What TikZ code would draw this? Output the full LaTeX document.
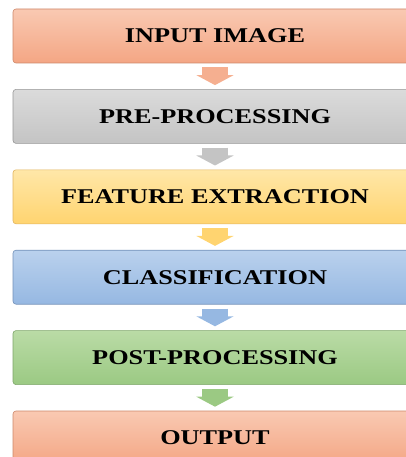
\documentclass[tikz,border=0pt]{standalone}
\usepackage{fontspec}
\setmainfont{Liberation Serif}[FakeStretch=1.25]
\usepackage{tikz}
\usetikzlibrary{arrows.meta}
\definecolor{salmonT}{RGB}{249,201,178}
\definecolor{salmonB}{RGB}{244,166,132}
\definecolor{salmonD}{RGB}{205,135,105}
\definecolor{grayT}{RGB}{219,219,219}
\definecolor{grayB}{RGB}{196,196,196}
\definecolor{grayD}{RGB}{150,150,150}
\definecolor{yellowT}{RGB}{255,231,168}
\definecolor{yellowB}{RGB}{255,212,112}
\definecolor{yellowD}{RGB}{225,180,95}
\definecolor{blueT}{RGB}{186,209,237}
\definecolor{blueB}{RGB}{150,184,226}
\definecolor{blueD}{RGB}{115,145,185}
\definecolor{greenT}{RGB}{186,219,166}
\definecolor{greenB}{RGB}{155,201,131}
\definecolor{greenD}{RGB}{125,165,105}
\tikzstyle{stage} = [rectangle, rounded corners=3pt, minimum width=404pt, minimum height=54pt, text centered, line width=0.6pt, font=\fontsize{21}{24}\selectfont\bfseries]
\tikzstyle{flow} = [line width=26pt, -{Triangle[length=10pt 0 0, width=37pt 0 0]}]

\begin{document}
\begin{tikzpicture}

\useasboundingbox (0,0) rectangle (406pt,-457pt);

\node (input) [stage, draw=salmonD, top color=salmonT, bottom color=salmonB] at (215pt,-36pt) {INPUT IMAGE};
\node (pre) [stage, draw=grayD, top color=grayT, bottom color=grayB] at (215pt,-116.4pt) {PRE-PROCESSING};
\node (feat) [stage, draw=yellowD, top color=yellowT, bottom color=yellowB] at (215pt,-196.8pt) {FEATURE EXTRACTION};
\node (class) [stage, draw=blueD, top color=blueT, bottom color=blueB] at (215pt,-277.2pt) {CLASSIFICATION};
\node (post) [stage, draw=greenD, top color=greenT, bottom color=greenB] at (215pt,-357.6pt) {POST-PROCESSING};
\node (output) [stage, draw=salmonD, top color=salmonT, bottom color=salmonB] at (215pt,-438pt) {OUTPUT};

\draw[flow, salmonB!90] ([yshift=-4pt]input.south) -- ([yshift=4pt]pre.north);
\draw[flow, grayB] ([yshift=-4pt]pre.south) -- ([yshift=4pt]feat.north);
\draw[flow, yellowB] ([yshift=-4pt]feat.south) -- ([yshift=4pt]class.north);
\draw[flow, blueB] ([yshift=-4pt]class.south) -- ([yshift=4pt]post.north);
\draw[flow, greenB] ([yshift=-4pt]post.south) -- ([yshift=4pt]output.north);

\end{tikzpicture}
\end{document}
